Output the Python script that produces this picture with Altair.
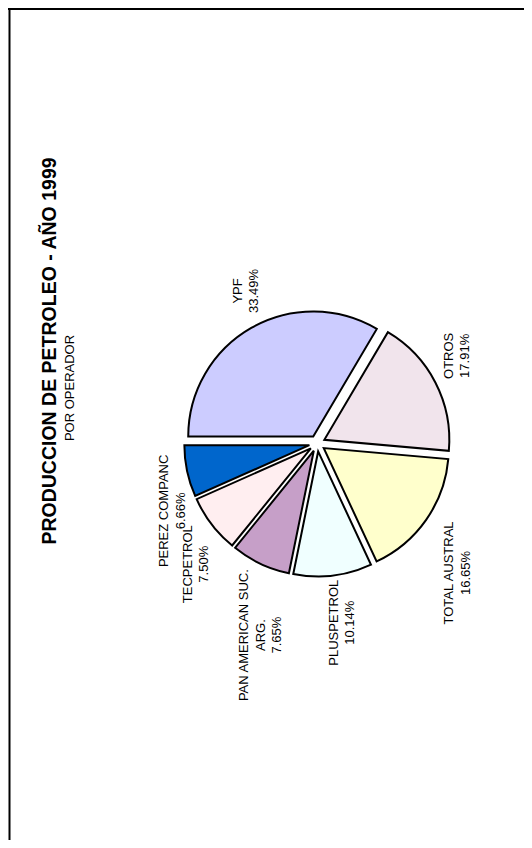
import math
import altair as alt
import pandas as pd

# ---- data ----
names = ["YPF", "OTROS", "TOTAL AUSTRAL", "PLUSPETROL",
         "PAN AMERICAN SUC.\nARG.", "TECPETROL", "PEREZ COMPANC"]
shares = [33.49, 17.91, 16.65, 10.14, 7.65, 7.50, 6.66]
colors = ["#CCCCFF", "#F1E4EC", "#FFFFCC", "#F0FFFF",
          "#C69FC8", "#FFEEF0", "#0066CC"]
title_text = "PRODUCCION DE PETROLEO - AÑO 1999"
subtitle_text = "POR OPERADOR"

# ---- layout (pixels / degrees) ----
W, H = 516, 832
CX, CY = 309.2, 435.5
R = 125
EXPLODE = 8
START = 1.5 * math.pi
label_angle_deg = [332.5, 56.3, 134.4, 174.7, 200.8, 227.0, 246.2]
label_radius = [172, 158, 185, 180, 205, 177, 167]
FONT = "Liberation Sans, Arial, sans-serif"

df = pd.DataFrame({
    "name": names,
    "share": shares,
    "order": list(range(len(names))),
    "la": [math.radians(a) for a in label_angle_deg],
    "lr": label_radius,
})

base = alt.Chart(df).transform_window(
    cum="sum(share)", sort=[alt.SortField("order")], frame=[None, 0]
).transform_calculate(
    start="datum.cum - datum.share",
    mid=f"{START} + 2*PI*(datum.cum - datum.share/2)/100",
).transform_calculate(
    ax=f"{CX} + {EXPLODE}*sin(datum.mid)",
    ay=f"{CY} - {EXPLODE}*cos(datum.mid)",
    tx=f"{CX} + datum.lr*sin(datum.la)",
    ty=f"{CY} - datum.lr*cos(datum.la)",
    label="datum.name + '\\n' + format(datum.share, '.2f') + '%'",
)

pie = base.mark_arc(outerRadius=R, stroke="black", strokeWidth=2).encode(
    theta=alt.Theta("start:Q", scale=alt.Scale(domain=[0, 100],
                                              range=[START, START + 2 * math.pi])),
    theta2="cum:Q",
    x=alt.X("ax:Q", scale=None, axis=None),
    y=alt.Y("ay:Q", scale=None, axis=None),
    color=alt.Color("name:N", scale=alt.Scale(domain=names, range=colors), legend=None),
)

labels = base.mark_text(angle=270, align="center", baseline="middle",
                        lineBreak="\n", font=FONT, fontSize=13,
                        lineHeight=16.5, color="black").encode(
    x=alt.X("tx:Q", scale=None, axis=None),
    y=alt.Y("ty:Q", scale=None, axis=None),
    text="label:N",
)

title = alt.Chart(pd.DataFrame({"t": [title_text]})).mark_text(
    angle=270, align="center", baseline="middle", font=FONT,
    fontSize=19.5, fontWeight="bold", color="black"
).encode(text="t:N", x=alt.value(42), y=alt.value(343))

subtitle = alt.Chart(pd.DataFrame({"t": [subtitle_text]})).mark_text(
    angle=270, align="center", baseline="middle", font=FONT,
    fontSize=13, color="black"
).encode(text="t:N", x=alt.value(62), y=alt.value(380))

frame_top = alt.Chart(pd.DataFrame({"a": [0]})).mark_rule(
    color="black", strokeWidth=2
).encode(x=alt.value(0), x2=alt.value(W), y=alt.value(1))
frame_left = alt.Chart(pd.DataFrame({"a": [0]})).mark_rule(
    color="black", strokeWidth=2
).encode(x=alt.value(1.5), y=alt.value(0), y2=alt.value(H))

chart = alt.layer(frame_top, frame_left, pie, labels, title, subtitle).properties(
    width=W, height=H, autosize=alt.AutoSizeParams(type="none"),
    padding=0, background="white"
).configure_view(stroke=None)

chart.save("out.html", embed_options={"renderer": "svg", "actions": False})
